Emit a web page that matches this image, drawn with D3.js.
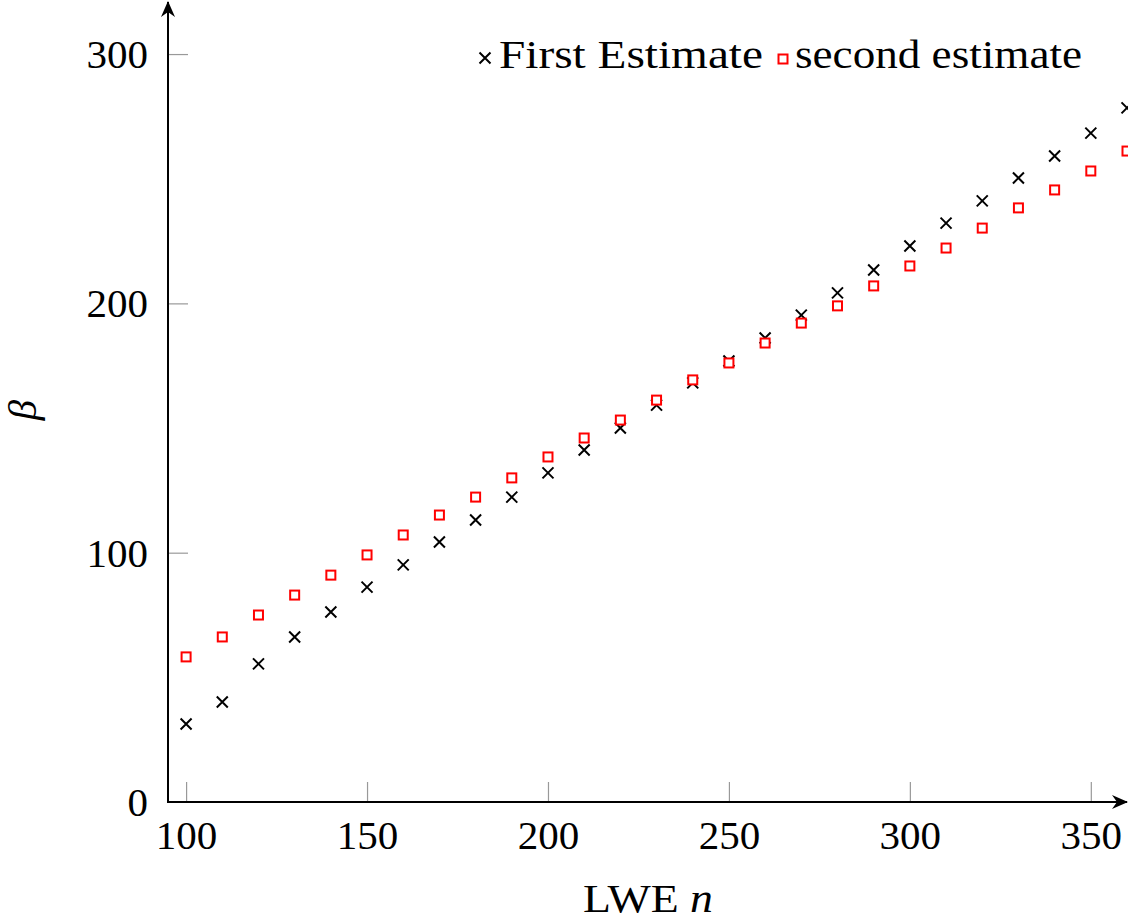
<!DOCTYPE html>
<html><head><meta charset="utf-8">
<script src="https://cdn.jsdelivr.net/npm/d3@7"></script>
<style>body{margin:0;background:#fff}svg{display:block}text{font-family:"Liberation Serif","Times New Roman",serif;}</style>
</head><body>
<script>
const nValues = [100,110,120,130,140,150,160,170,180,190,200,210,220,230,240,250,260,270,280,290,300,310,320,330,340,350,360];
const firstEstimate = [31.3,40.1,55.4,66.2,76.2,86.2,95.1,104.3,113.1,122.3,132,141.2,150,159.2,168.1,176.9,186.1,195.3,204.2,213.4,223,232.2,241.1,250.3,259.1,268.3,278.4];
const secondEstimate = [58.2,66.2,75,83,91,99.1,107.1,115.1,122.3,130,138.4,146,153.2,161.2,169.3,176.1,184.1,192.1,199,207,215,222.2,230.2,238.3,245.5,253.1,261.1];
const xTicks = [100,150,200,250,300,350];
const yTicks = [0,100,200,300];
const seriesNames = ["First Estimate","second estimate"];

const W=1128,H=921;
const svg=d3.select("body").append("svg").attr("width",W).attr("height",H);
const x=d3.scaleLinear().domain([95,360]).range([168,1127]);
const y=d3.scaleLinear().domain([0,320]).range([802,4.2]);
const fs=41;

// ticks (gray, inward)
const xAxis=d3.axisBottom(x).tickValues(xTicks).tickSizeInner(-20).tickSizeOuter(0).tickPadding(10).tickFormat(d3.format("d"));
const gx=svg.append("g").attr("transform","translate(0,802)").call(xAxis);
gx.select(".domain").remove();
gx.selectAll(".tick line").attr("stroke","#999").attr("stroke-width",1.2);
gx.selectAll(".tick text").attr("font-size",fs).attr("fill","#000").attr("font-family","Liberation Serif").attr("dy","0.9em").attr("y",10);

const yAxis=d3.axisLeft(y).tickValues(yTicks).tickSizeInner(-20).tickSizeOuter(0).tickPadding(14).tickFormat(d3.format("d"));
const gy=svg.append("g").attr("transform","translate(168,0)").call(yAxis);
gy.select(".domain").remove();
gy.selectAll(".tick line").attr("stroke","#999").attr("stroke-width",1.2);
gy.selectAll(".tick text").attr("font-size",fs).attr("fill","#000").attr("font-family","Liberation Serif").attr("x",-20).attr("dy","0.33em");
gy.selectAll(".tick").filter(d=>d===0).select("line").remove();

// axis lines with arrows
const defs=svg.append("defs");
defs.append("marker").attr("id","arr").attr("viewBox","0 0 16 14").attr("refX",15).attr("refY",7)
 .attr("markerWidth",16).attr("markerHeight",14).attr("markerUnits","userSpaceOnUse").attr("orient","auto")
 .append("path").attr("d","M0,0 L16,7 L0,14 L5,7 Z").attr("fill","#000");
svg.append("line").attr("x1",167).attr("y1",802).attr("x2",1127).attr("y2",802).attr("stroke","#000").attr("stroke-width",2).attr("marker-end","url(#arr)");
svg.append("line").attr("x1",168).attr("y1",803).attr("x2",168).attr("y2",2).attr("stroke","#000").attr("stroke-width",2).attr("marker-end","url(#arr)");

// markers
const cs=5.5;
svg.append("g").selectAll("path").data(nValues.map((n,i)=>[n,firstEstimate[i]])).join("path")
 .attr("d",d=>`M${x(d[0])-cs},${y(d[1])-cs}L${x(d[0])+cs},${y(d[1])+cs}M${x(d[0])-cs},${y(d[1])+cs}L${x(d[0])+cs},${y(d[1])-cs}`)
 .attr("stroke","#000").attr("stroke-width",2).attr("fill","none");
const ss=4.5;
svg.append("g").selectAll("rect").data(nValues.map((n,i)=>[n,secondEstimate[i]])).join("rect")
 .attr("x",d=>x(d[0])-ss).attr("y",d=>y(d[1])-ss).attr("width",2*ss).attr("height",2*ss)
 .attr("stroke","#f00").attr("stroke-width",2).attr("fill","#fff");

// legend
const lg=svg.append("g");
lg.append("path").attr("d",`M${485-cs},${58-cs}L${485+cs},${58+cs}M${485-cs},${58+cs}L${485+cs},${58-cs}`).attr("stroke","#000").attr("stroke-width",2);
lg.append("text").attr("x",499).attr("y",68).attr("font-size",fs).attr("textLength",264).attr("lengthAdjust","spacingAndGlyphs").text(seriesNames[0]);
lg.append("rect").attr("x",783-ss).attr("y",59-ss).attr("width",2*ss).attr("height",2*ss).attr("stroke","#f00").attr("stroke-width",2).attr("fill","#fff");
lg.append("text").attr("x",795).attr("y",68).attr("font-size",fs).attr("textLength",287).attr("lengthAdjust","spacingAndGlyphs").text(seriesNames[1]);

// axis labels
svg.append("text").attr("x",583).attr("y",912).attr("font-size",fs).attr("textLength",130).attr("lengthAdjust","spacingAndGlyphs")
 .html('LWE <tspan font-style="italic">n</tspan>');
svg.append("text").attr("transform","translate(36,410) rotate(-90)").attr("text-anchor","middle").attr("font-size",fs).attr("font-style","italic").text("β");
</script>
</body></html>
